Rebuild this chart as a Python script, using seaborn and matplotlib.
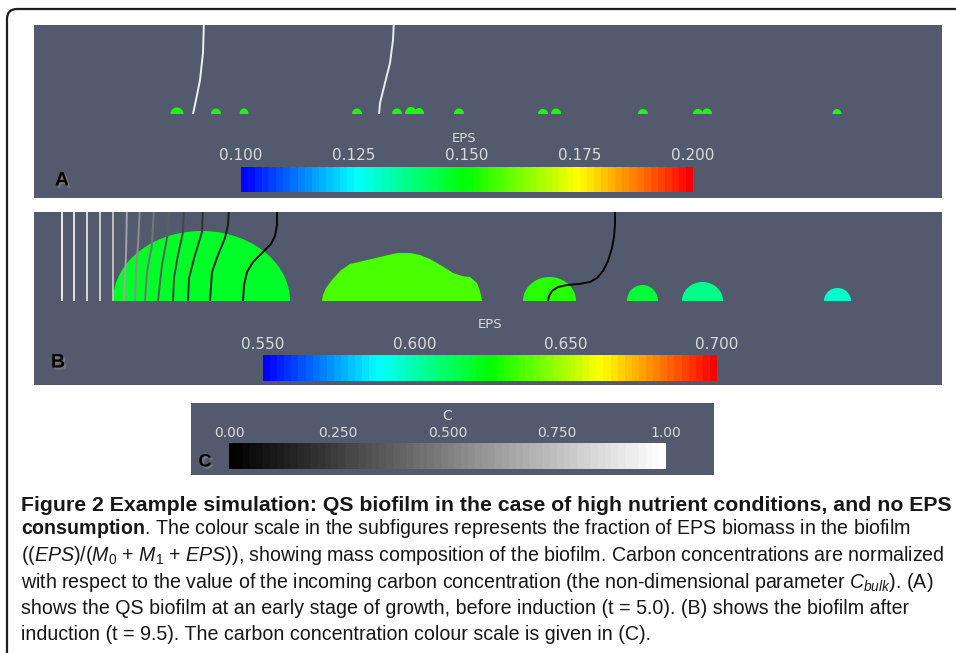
import numpy as np
import matplotlib
matplotlib.use("Agg")
import matplotlib.pyplot as plt
import matplotlib.colors as mcolors
import matplotlib.patheffects as pe
from matplotlib.patches import FancyBboxPatch
import seaborn as sns

# ---------------------------------------------------------------- data ----
# Domain units: x along the substratum, y = height above the substratum.

# (A) t = 5.0 : small colonies, EPS fraction
a_centres = [143, 182, 210, 323, 363, 377, 385, 425, 509, 522, 609, 664, 673, 803]
a_halfwidths = [6.5, 5, 4.5, 5, 5, 6, 5, 5, 5, 5, 5, 5, 5, 4.5]
a_heights = [6.5, 5.5, 5.5, 5.5, 5.5, 7, 6, 5.5, 5, 5.5, 5, 5, 5.5, 5]
a_eps = [0.152, 0.152, 0.152, 0.152, 0.152, 0.153, 0.153, 0.152, 0.153, 0.153,
         0.152, 0.153, 0.153, 0.152]

# (A) carbon iso-lines
a_line1_x = [170, 169, 166, 162, 159]
a_line1_y = [95, 61, 34, 14, 0]
a_line2_x = [360, 359, 356, 350, 346, 345]
a_line2_y = [95, 74, 51, 27, 11, 0]
a_line_levels = [0.93, 0.92]

# (B) t = 9.5 : dome-shaped colonies
b_centres = [167.5, 515.5, 608.5, 668.5, 803.5]
b_halfwidths = [88.5, 26.5, 15.5, 20.5, 13.5]
b_heights = [70, 24, 16, 19, 13]
b_eps = [0.619, 0.630, 0.616, 0.606, 0.595]

# (B) irregular colony: surface profile
b_blob_x = [288, 289, 292, 298, 306, 316, 329, 346, 363, 376, 386, 396, 403, 413, 419, 428, 436, 443, 446, 448]
b_blob_h = [0, 6, 13, 21, 30, 37, 40, 44, 48, 48, 46, 42, 38, 32, 28, 25, 24, 18, 10, 0]
b_blob_eps = 0.636

# (B) carbon iso-lines (x, y) and their C level
b_lines_x = [
    [28, 28], [40, 40], [53, 53], [66, 66], [79, 79],
    [93, 92, 90],
    [106, 104, 102, 101],
    [120, 118, 113, 111],
    [135, 133, 128, 124],
    [150, 149, 144, 140, 139],
    [169, 168, 161, 155, 154],
    [195, 194, 191, 184, 178, 176],
    [243, 243, 241, 237, 229, 219, 213, 210, 209],
    [581, 581, 580, 578, 574, 569, 563, 556, 545, 533, 524, 518, 515, 514],
]
b_lines_y = [
    [95, 0], [95, 0], [95, 0], [95, 0], [95, 0],
    [95, 46, 0],
    [95, 56, 29, 0],
    [95, 56, 29, 0],
    [95, 63, 36, 0],
    [95, 69, 46, 23, 0],
    [95, 69, 46, 23, 0],
    [95, 76, 63, 46, 29, 0],
    [95, 76, 65, 57, 49, 39, 29, 16, 0],
    [95, 76, 64, 53, 40, 30, 23, 19, 17, 16, 14, 10, 5, 0],
]
b_line_levels = [0.92, 0.88, 0.84, 0.80, 0.74, 0.64, 0.56, 0.46, 0.36, 0.27,
                 0.19, 0.12, 0.04, 0.04]

# colour bars
eps_a_ticks = [0.100, 0.125, 0.150, 0.175, 0.200]
eps_a_labels = ["0.100", "0.125", "0.150", "0.175", "0.200"]
eps_b_ticks = [0.55, 0.60, 0.65, 0.70]
eps_b_labels = ["0.550", "0.600", "0.650", "0.700"]
c_ticks = [0.0, 0.25, 0.5, 0.75, 1.0]
c_labels = ["0.00", "0.250", "0.500", "0.750", "1.00"]

caption_lines = [
    "Figure 2 Example simulation: QS biofilm in the case of high nutrient conditions, and no EPS",
    r"$\mathbf{consumption}$. The colour scale in the subfigures represents the fraction of EPS biomass in the biofilm",
    r"(($\mathit{EPS}$)/($\mathit{M}_0$ + $\mathit{M}_1$ + $\mathit{EPS}$)), showing mass composition of the biofilm. Carbon concentrations are normalized",
    r"with respect to the value of the incoming carbon concentration (the non-dimensional parameter $\mathit{C}_{\mathit{bulk}}$). (A)",
    "shows the QS biofilm at an early stage of growth, before induction (t = 5.0). (B) shows the biofilm after",
    "induction (t = 9.5). The carbon concentration colour scale is given in (C).",
]

# ---------------------------------------------------------------- style ---
sns.set_theme(style="white")
plt.rcParams["font.family"] = ["DejaVu Sans"]
plt.rcParams["mathtext.fontset"] = "custom"
plt.rcParams["mathtext.rm"] = "Liberation Sans"
plt.rcParams["mathtext.it"] = "Liberation Sans:italic"
plt.rcParams["mathtext.bf"] = "Liberation Sans:bold"

PANEL = "#545a6e"
LABEL = "#dadada"
W, H = 956, 653

fig = plt.figure(figsize=(W / 100, H / 100), dpi=100)
fig.patch.set_facecolor("white")


def rect(x0, y0, x1, y1):
    return [x0 / W, 1 - y1 / H, (x1 - x0) / W, (y1 - y0) / H]


def ftext(x, y, s, **kw):
    return fig.text(x / W, 1 - y / H, s, **kw)


def banded(colours):
    return mcolors.ListedColormap(colours)


n_bands = 64
hues = np.linspace(2 / 3, 0, n_bands)
rainbow = banded(mcolors.hsv_to_rgb(np.stack([hues, np.ones(n_bands), np.ones(n_bands)], axis=1)))
greys = banded(plt.cm.gray(np.linspace(0, 1, n_bands)))

norm_a = mcolors.Normalize(0.10, 0.20)
norm_b = mcolors.Normalize(0.55, 0.70)
norm_c = mcolors.Normalize(0.0, 1.0)

# page frame
bg = fig.add_axes([0, 0, 1, 1], zorder=-5)
bg.set_xlim(0, W)
bg.set_ylim(H, 0)
bg.axis("off")
bg.add_patch(FancyBboxPatch((7, 9), 1000, 700, boxstyle="round,pad=0,rounding_size=10",
                            fill=False, ec="#1e1e1e", lw=1.6))


def panel(x0, y0, x1, y1):
    ax = fig.add_axes(rect(x0, y0, x1, y1))
    ax.set_facecolor(PANEL)
    ax.set_xlim(0, 908)
    ax.set_ylim(-84, 89)
    ax.set_xticks([])
    ax.set_yticks([])
    for s in ax.spines.values():
        s.set_visible(False)
    return ax


theta = np.linspace(0, np.pi, 120)


def domes(ax, centres, halfwidths, heights, eps, cmap, norm):
    for cx, hw, h, e in zip(centres, halfwidths, heights, eps):
        ax.fill(cx + hw * np.cos(theta), h * np.sin(theta), color=cmap(norm(e)), lw=0)


def isolines(ax, xs, ys, levels):
    for x, y, lev in zip(xs, ys, levels):
        sns.lineplot(x=x, y=y, sort=False, estimator=None, ax=ax,
                     color=greys(norm_c(lev)), lw=1.4, solid_capstyle="butt",
                     solid_joinstyle="round")


def colourbar(x0, y0, x1, y1, cmap, norm, ticks, labels, size, pad):
    cax = fig.add_axes(rect(x0, y0, x1, y1))
    cb = fig.colorbar(plt.cm.ScalarMappable(norm=norm, cmap=cmap), cax=cax,
                      orientation="horizontal", ticks=ticks)
    cb.outline.set_visible(False)
    cax.xaxis.set_ticks_position("top")
    cax.set_xticklabels(labels)
    cax.tick_params(length=0, pad=pad, labelsize=size, labelcolor=LABEL)
    return cb


shadow = [pe.withSimplePatchShadow(offset=(1.5, -1.5), shadow_rgbFace="#8a8a8a", alpha=0.6)]
letter_font = ["Liberation Sans", "DejaVu Sans"]

# (A)
ax_a = panel(34, 25, 942, 198)
domes(ax_a, a_centres, a_halfwidths, a_heights, a_eps, rainbow, norm_a)
isolines(ax_a, [a_line1_x, a_line2_x], [a_line1_y, a_line2_y], a_line_levels)
colourbar(241, 167, 693, 192, rainbow, norm_a, eps_a_ticks, eps_a_labels, 11, 3)
ftext(464, 138, "EPS", ha="center", va="center", fontsize=9.5, color=LABEL)
ftext(62, 181, "A", ha="center", va="center", fontsize=14, fontweight="bold",
      family=letter_font, color="black", path_effects=shadow)

# (B)
ax_b = panel(34, 212, 942, 385)
domes(ax_b, b_centres, b_halfwidths, b_heights, b_eps, rainbow, norm_b)
ax_b.fill(b_blob_x, b_blob_h, color=rainbow(norm_b(b_blob_eps)), lw=0)
isolines(ax_b, b_lines_x, b_lines_y, b_line_levels)
colourbar(263, 355, 717, 381, rainbow, norm_b, eps_b_ticks, eps_b_labels, 11, 2)
ftext(490, 325, "EPS", ha="center", va="center", fontsize=9.5, color=LABEL)
ftext(58, 363, "B", ha="center", va="center", fontsize=14, fontweight="bold",
      family=letter_font, color="black", path_effects=shadow)

# (C) carbon colour scale
ax_c = fig.add_axes(rect(191, 403, 714, 475))
ax_c.set_facecolor(PANEL)
ax_c.set_xticks([])
ax_c.set_yticks([])
for s in ax_c.spines.values():
    s.set_visible(False)
colourbar(229, 443, 666, 469, greys, norm_c, c_ticks, c_labels, 10, 2)
ftext(447, 416, "C", ha="center", va="center", fontsize=10, color=LABEL)
ftext(205, 462, "C", ha="center", va="center", fontsize=13, fontweight="bold",
      family=letter_font, color="black", path_effects=shadow)

# caption: one size for the body lines, bold heading fitted to the frame
baselines = [511, 534, 561, 588, 614, 640]
line_ends = [946, 907, 915, 939, 902, 616]
texts = []
for i, (s, yb) in enumerate(zip(caption_lines, baselines)):
    t = bg.text(21, yb, s, ha="left", va="baseline", fontsize=13,
                family=["Liberation Sans", "DejaVu Sans"], color="#161616",
                fontweight="bold" if i == 0 else "normal")
    texts.append(t)

fig.canvas.draw()
renderer = fig.canvas.get_renderer()
scales = [(end - 21) / t.get_window_extent(renderer).width for t, end in zip(texts, line_ends)]
texts[0].set_fontsize(13 * scales[0])
body = 13 * float(np.median(scales[1:]))
for t in texts[1:]:
    t.set_fontsize(body)

fig.savefig("out.png", dpi=100, facecolor="white")
